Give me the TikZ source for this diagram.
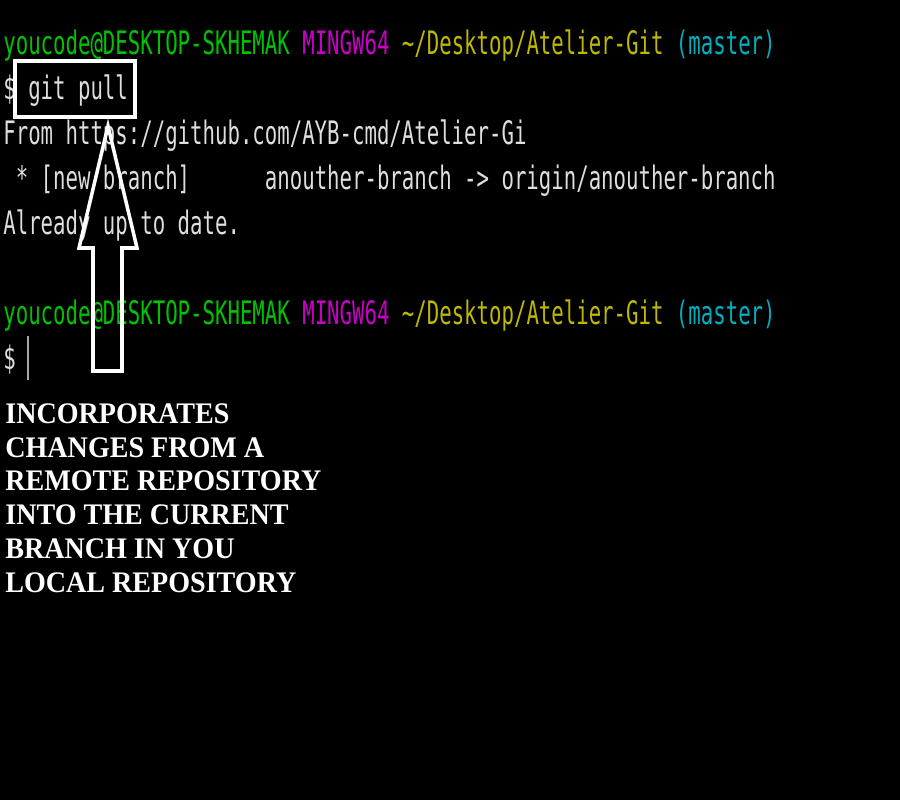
\documentclass[tikz,border=0pt]{standalone}
\usepackage{fontspec}
\usepackage{tikz}
\usepackage{xcolor}
\usetikzlibrary{positioning, calc}

\newfontfamily\termfont[FakeStretch=0.64]{DejaVu Sans Mono}
\newfontfamily\notefont[FakeStretch=0.94]{Liberation Serif}

\definecolor{termgreen}{RGB}{0,195,0}
\definecolor{termmagenta}{RGB}{200,0,200}
\definecolor{termyellow}{RGB}{190,185,0}
\definecolor{termcyan}{RGB}{0,175,190}
\definecolor{termtext}{RGB}{222,222,222}

\begin{document}
\begin{tikzpicture}[
  x=0.02cm, y=-0.02cm,
  term/.style={anchor=base west, inner sep=0pt, text=termtext,
               font=\termfont\fontsize{18.4pt}{20pt}\selectfont},
  note/.style={anchor=north west, inner sep=0pt, text=white, align=left,
               font=\notefont\bfseries\fontsize{17pt}{19.3pt}\selectfont},
  callout/.style={draw=white, line width=2pt, line join=miter}
]
% ---- BACKGROUND ----
\fill[black] (0,0) rectangle (900,800);
\useasboundingbox (0,0) rectangle (900,800);

% ---- FIRST PROMPT ----
\node[term] (prompt1) at (3,55)
  {\textcolor{termgreen}{youcode@DESKTOP-SKHEMAK} \textcolor{termmagenta}{MINGW64} \textcolor{termyellow}{\string~/Desktop/Atelier-Git} \textcolor{termcyan}{(master)}};
\node[term] (cmd) at (3,100) {\$ git pull};
\node[term] (from) at (3,145) {From https://github.com/AYB-cmd/Atelier-Gi};
\node[term] (newbranch) at (3,190)
  {\ * [new branch]\ \ \ \ \ \ anouther-branch -> origin/anouther-branch};
\node[term] (uptodate) at (3,235) {Already up to date.};

% ---- SECOND PROMPT ----
\node[term] (prompt2) at (3,325)
  {\textcolor{termgreen}{youcode@DESKTOP-SKHEMAK} \textcolor{termmagenta}{MINGW64} \textcolor{termyellow}{\string~/Desktop/Atelier-Git} \textcolor{termcyan}{(master)}};
\node[term] (dollar) at (3,370) {\$};
\draw[gray!70, line width=0.8pt] (28,336) -- (28,380);

% ---- HIGHLIGHT + ARROW ----
\draw[callout] (15,61) rectangle (135,117);
\draw[callout] (108,126) -- (137,248) -- (122,248) -- (122,371)
  -- (93,371) -- (93,248) -- (79,248) -- cycle;

% ---- EXPLANATION ----
\node[note] (expl) at (5,403) {%
  INCORPORATES\\
  CHANGES FROM A\\
  REMOTE REPOSITORY\\
  INTO THE CURRENT\\
  BRANCH IN YOU\\
  LOCAL REPOSITORY};

\end{tikzpicture}
\end{document}
